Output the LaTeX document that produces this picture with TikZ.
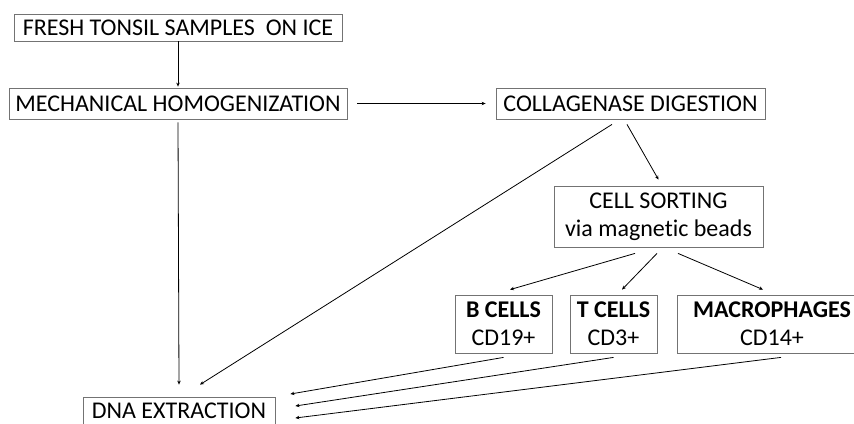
\documentclass[tikz,border=0pt]{standalone}
\usepackage{fontspec}
\setmainfont[Ligatures=NoCommon]{Carlito}
\usetikzlibrary{arrows.meta,calc}
\begin{document}
\begin{tikzpicture}[x=1pt,y=-1pt,
 box/.style={draw=black!55, line width=0.8pt, inner sep=0pt, align=center, font=\fontsize{24}{28}\selectfont},
 arr/.style={draw=black, line width=0.8pt, -{Stealth[length=4pt,width=3.5pt]}}]
\useasboundingbox (0,0) rectangle (854,423);
\clip (0,0) rectangle (854,423);
\fill[white] (0,0) rectangle (854,423);
\node[box, minimum width=328pt, minimum height=27pt] (fresh) at (178,27.5) {FRESH TONSIL SAMPLES\ \ ON ICE};
\node[box, minimum width=338pt, minimum height=31pt] (mech) at (178,103.5) {MECHANICAL HOMOGENIZATION};
\node[box, minimum width=269pt, minimum height=31pt] (coll) at (630.5,103.5) {COLLAGENASE DIGESTION};
\node[box, minimum width=209pt, minimum height=61pt] (sort) at (658.5,216.5) {CELL SORTING\\via magnetic beads};
\node[box, minimum width=97pt, minimum height=58pt] (bc) at (503.5,324) {\textbf{B CELLS}\\CD19+};
\node[box, minimum width=87pt, minimum height=58pt] (tc) at (613.5,324) {\textbf{T CELLS}\\CD3+};
\node[box, minimum width=200pt, minimum height=58pt] (mac) at (777,324) {\hspace*{-10pt}\textbf{MACROPHAGES}\\\hspace*{-10pt}CD14+};
\node[box, minimum width=192pt, minimum height=28pt] (dna) at (179,411) {DNA EXTRACTION};
\draw[arr] (fresh.south) -- ($(mech.north)+(0,-1)$);
\draw[arr] ($(mech.east)+(10,0)$) -- ($(coll.west)+(-10,0)$);
\draw[arr] ($(mech.south)+(0,3)$) -- ($(dna.north)+(0,-12)$);
\draw[arr] ($(coll.south)+(-18.5,5)$) -- ($(dna.north)+(21,-12)$);
\draw[arr] ($(coll.south)+(-3.5,5)$) -- ($(sort.north)+(0,-6)$);
\draw[arr] ($(sort.south)+(-23.5,6)$) -- ($(bc.north)+(6.5,-5)$);
\draw[arr] ($(sort.south)+(-1.5,6)$) -- ($(tc.north)+(8.5,-5)$);
\draw[arr] ($(sort.south)+(19.5,6)$) -- ($(mac.north)+(-14,-5)$);
\draw[arr] ($(bc.south)+(0,4)$) -- ($(dna.east)+(15,-17)$);
\draw[arr] ($(tc.south)+(0,4)$) -- ($(dna.east)+(20,-5)$);
\draw[arr] ($(mac.south)+(4,4)$) -- ($(dna.east)+(20,7)$);
\end{tikzpicture}
\end{document}
